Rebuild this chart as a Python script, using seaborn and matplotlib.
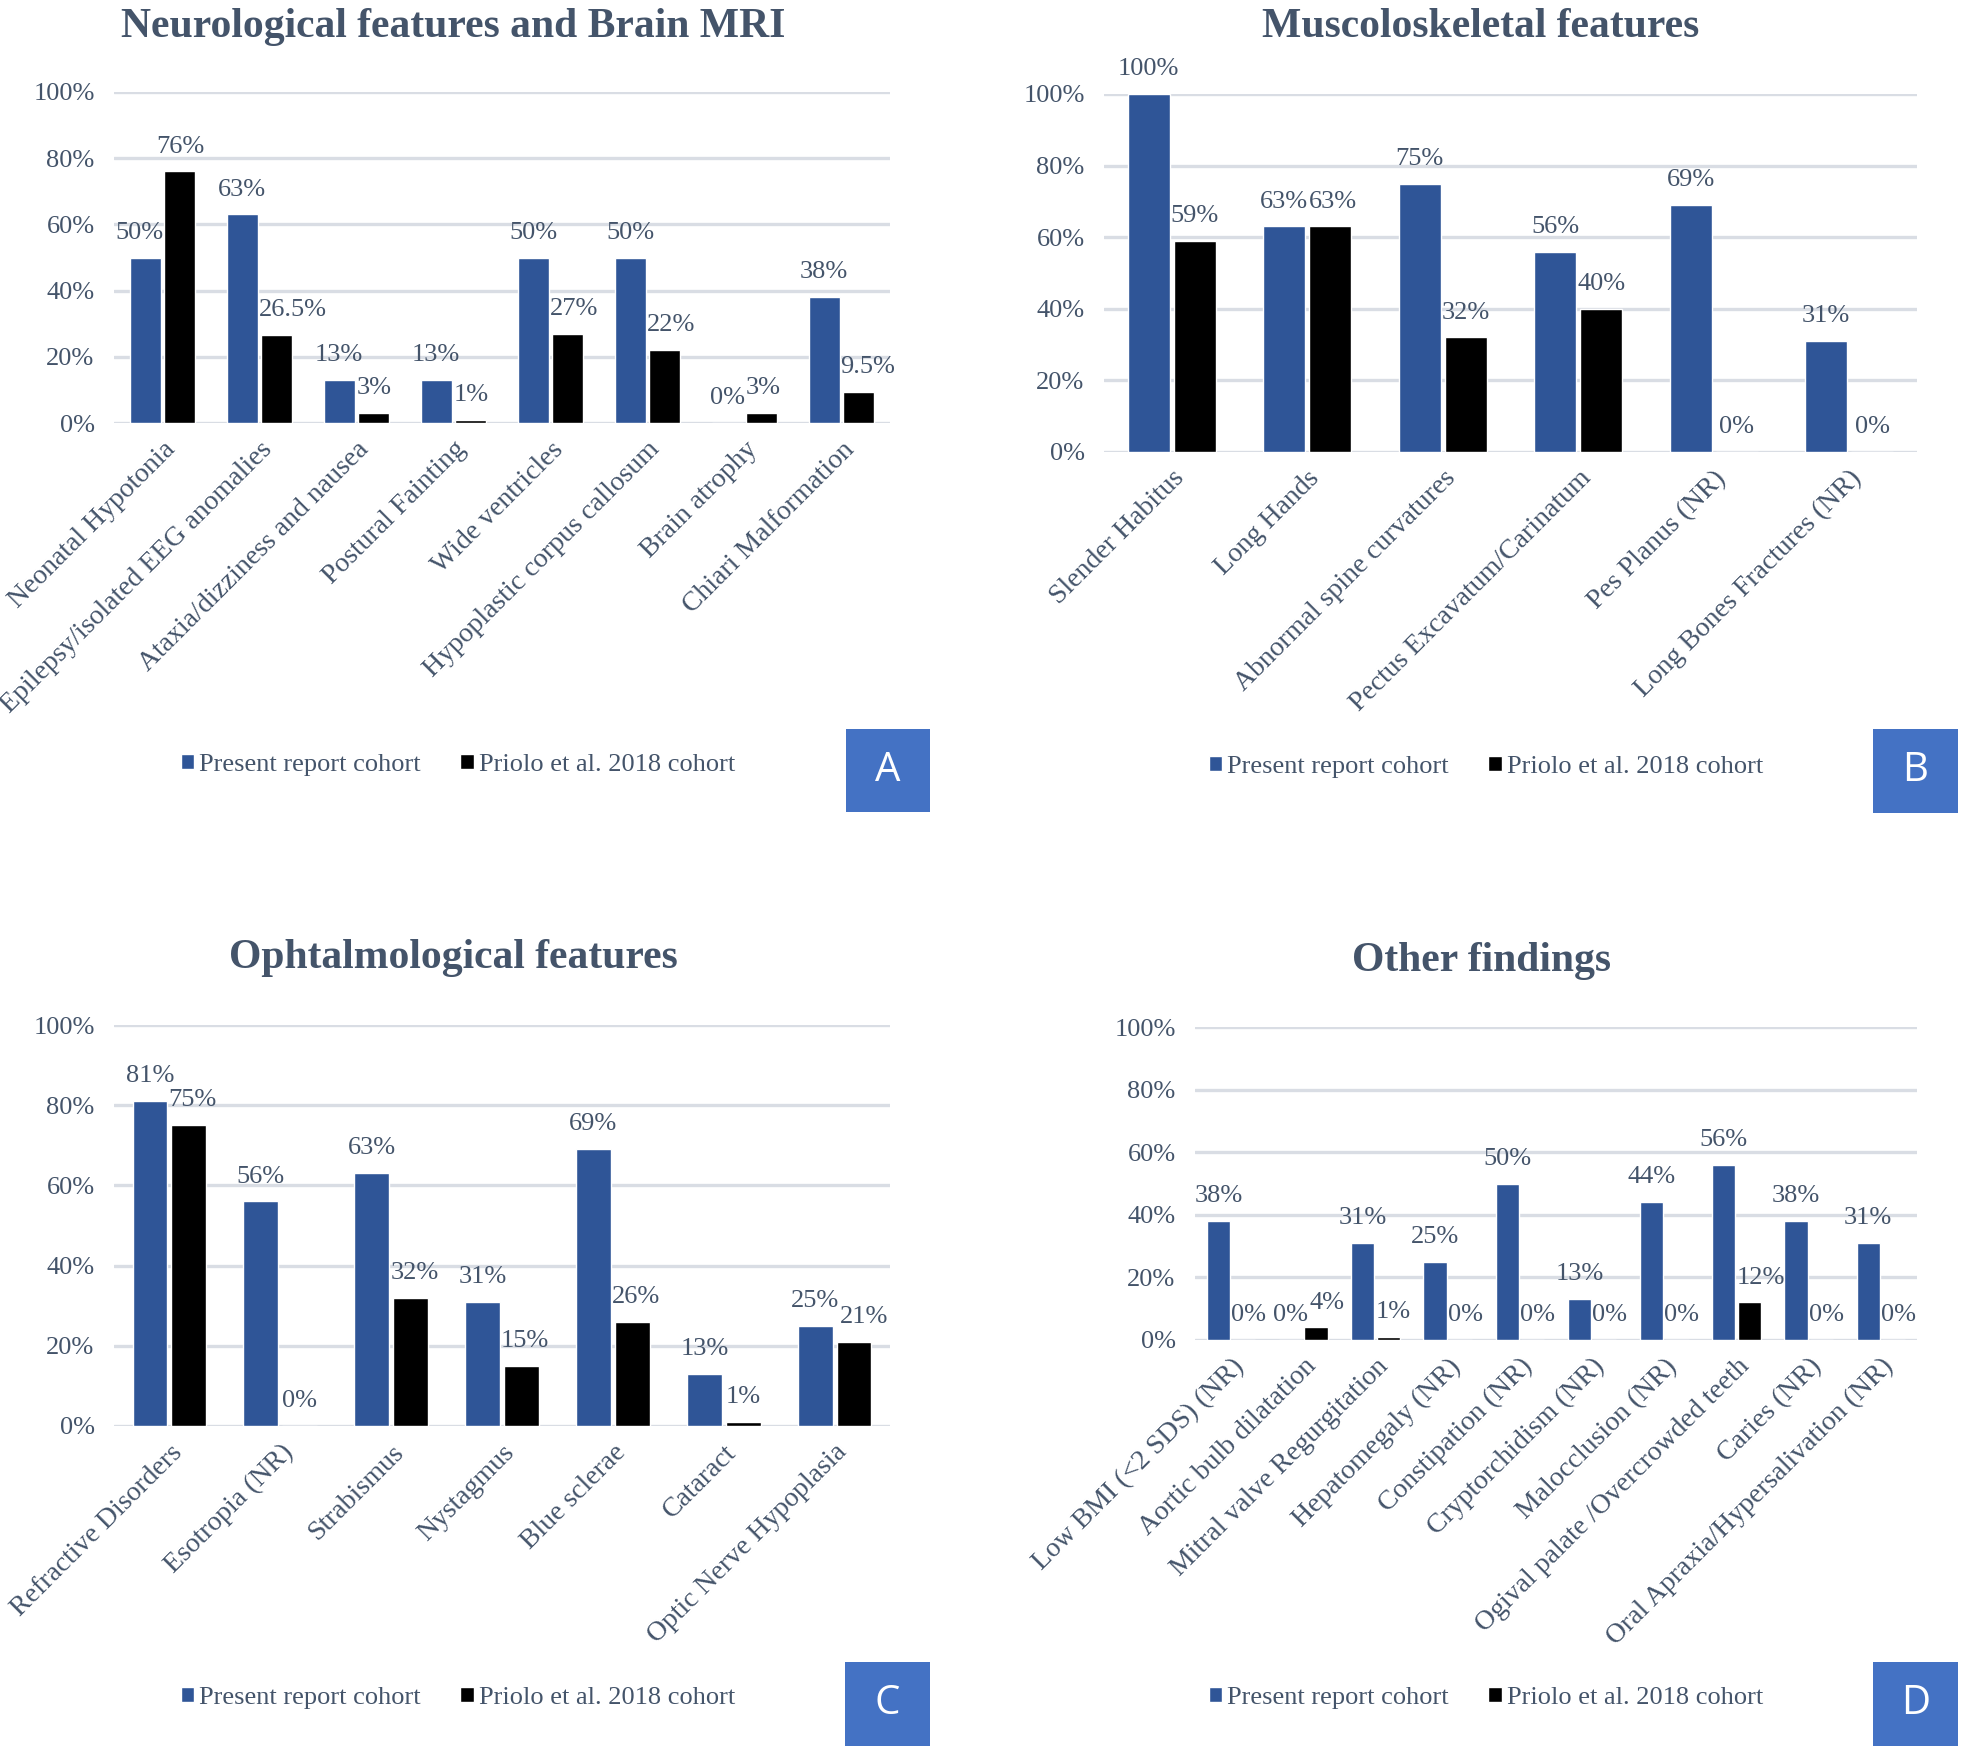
import matplotlib
matplotlib.use("Agg")
import matplotlib.pyplot as plt
import seaborn as sns
import pandas as pd
from matplotlib.patches import Rectangle

# ---------------- data ----------------
SERIES = ["Present report cohort", "Priolo et al. 2018 cohort"]

neuro_cats = ["Neonatal Hypotonia", "Epilepsy/isolated EEG anomalies",
              "Ataxia/dizziness and nausea", "Postural Fainting", "Wide ventricles",
              "Hypoplastic corpus callosum", "Brain atrophy", "Chiari Malformation"]
neuro_present = [50, 63, 13, 13, 50, 50, 0, 38]
neuro_priolo = [76, 26.5, 3, 1, 27, 22, 3, 9.5]

musc_cats = ["Slender Habitus", "Long Hands", "Abnormal spine curvatures",
             "Pectus Excavatum/Carinatum", "Pes Planus (NR)", "Long Bones Fractures (NR)"]
musc_present = [100, 63, 75, 56, 69, 31]
musc_priolo = [59, 63, 32, 40, 0, 0]

oph_cats = ["Refractive Disorders", "Esotropia (NR)", "Strabismus", "Nystagmus",
            "Blue sclerae", "Cataract", "Optic Nerve Hypoplasia"]
oph_present = [81, 56, 63, 31, 69, 13, 25]
oph_priolo = [75, 0, 32, 15, 26, 1, 21]

other_cats = ["Low BMI (<2 SDS) (NR)", "Aortic bulb dilatation", "Mitral valve Regurgitation",
              "Hepatomegaly (NR)", "Constipation (NR)", "Cryptorchidism (NR)",
              "Malocclusion (NR)", "Ogival palate /Overcrowded teeth", "Caries (NR)",
              "Oral Apraxia/Hypersalivation (NR)"]
other_present = [38, 0, 31, 25, 50, 13, 44, 56, 38, 31]
other_priolo = [0, 4, 1, 0, 0, 0, 0, 12, 0, 0]

y_ticks = [0, 20, 40, 60, 80, 100]

# ---------------- style ----------------
sns.set_theme(style="white")
plt.rcParams["font.family"] = ["Liberation Serif", "DejaVu Serif"]

TEXT = "#44546A"
BLUE = "#2F5597"
GRID = "#D9DDE4"
BOX = "#4472C4"
FS = 19
PAD = 10

W, H = 1968, 1748
DPI = 100
fig = plt.figure(figsize=(W / DPI, H / DPI), dpi=DPI)
registry = []


def px_axes(x0, x1, y0, y1):
    return fig.add_axes([x0 / W, 1 - y1 / H, (x1 - x0) / W, (y1 - y0) / H])


def panel(box_px, cats, present, priolo, width, gap, title, title_xy, legend_xy,
          letter, letter_box):
    ax = px_axes(*box_px)
    n = len(cats)
    df = pd.DataFrame({
        "category": cats * 2,
        "cohort": [SERIES[0]] * n + [SERIES[1]] * n,
        "value": present + priolo,
    })
    sns.barplot(data=df, x="category", y="value", hue="cohort",
                palette={SERIES[0]: BLUE, SERIES[1]: "black"},
                width=width, gap=gap, saturation=1, errorbar=None, ax=ax)
    ax.set_ylim(0, 100)
    ax.set_yticks(y_ticks)
    ax.set_yticklabels([f"{t}%" for t in y_ticks])
    ax.yaxis.grid(True, color=GRID, lw=2.4)
    ax.set_axisbelow(True)
    for s in ax.spines.values():
        s.set_visible(False)
    ax.set_xlabel("")
    ax.set_ylabel("")
    ax.set_xticks(range(n))
    ax.set_xticklabels(cats, rotation=45, ha="right", rotation_mode="anchor")
    ax.tick_params(axis="x", length=0, pad=10, labelsize=20, labelcolor=TEXT)
    ax.tick_params(axis="y", length=0, pad=14, labelsize=FS, labelcolor=TEXT)

    anns = []
    for cont, vals in zip(ax.containers, [present, priolo]):
        texts = ax.bar_label(cont, labels=[f"{v:g}%" for v in vals], padding=PAD,
                             fontsize=FS, color=TEXT)
        for t in texts:
            t.set_zorder(6)
        anns.append(texts)
    registry.append((ax, anns))

    handles, labels = ax.get_legend_handles_labels()
    if ax.get_legend() is not None:
        ax.get_legend().remove()
    fig.legend(handles, labels, loc="center",
               bbox_to_anchor=(legend_xy[0] / W, 1 - legend_xy[1] / H),
               ncol=2, frameon=False, fontsize=FS, labelcolor=TEXT,
               handlelength=0.5, handleheight=0.5, handletextpad=0.2,
               columnspacing=1.5)

    fig.text(title_xy[0] / W, 1 - title_xy[1] / H, title, fontsize=30,
             fontweight="bold", color=TEXT, ha="center", va="center")

    x0, x1, y0, y1 = letter_box
    fig.add_artist(Rectangle((x0 / W, 1 - y1 / H), (x1 - x0) / W, (y1 - y0) / H,
                             transform=fig.transFigure, color=BOX, lw=0))
    fig.text((x0 + x1) / 2 / W, 1 - (y0 + y1) / 2 / H, letter, color="white",
             fontsize=29, ha="center", va="center",
             family=["Open Sans", "DejaVu Sans"])
    return ax


panel((114, 890, 92, 423), neuro_cats, neuro_present, neuro_priolo, 0.72, 0.11,
      "Neurological features and Brain MRI", (453, 27), (458, 765), "A",
      (846, 930, 729, 812))
panel((1104, 1917, 94, 452), musc_cats, musc_present, musc_priolo, 0.68, 0.09,
      "Muscoloskeletal features", (1481, 27), (1486, 767), "B",
      (1873, 1958, 729, 813))
panel((114, 890, 1025, 1426), oph_cats, oph_present, oph_priolo, 0.70, 0.10,
      "Ophtalmological features", (453, 958), (458, 1698), "C",
      (845, 930, 1662, 1746))
panel((1195, 1917, 1027, 1340), other_cats, other_present, other_priolo, 0.70, 0.08,
      "Other findings", (1481, 961), (1486, 1698), "D",
      (1873, 1958, 1662, 1746))

# Nudge data labels sideways (like Excel) so they don't sit on a neighbouring bar
fig.canvas.draw()
rend = fig.canvas.get_renderer()
px2pt = 72 / DPI
for ax, (blue_anns, black_anns) in registry:
    blue_bars = ax.containers[0].patches
    black_bars = ax.containers[1].patches
    for i in range(len(blue_bars)):
        lb = blue_anns[i].get_window_extent(rend)
        kb = black_bars[i].get_window_extent(rend)
        left_shift = 0
        if kb.y1 > lb.y0 + 2 and lb.x1 > kb.x0:
            left_shift = lb.x1 - kb.x0 + 1
        if left_shift:
            blue_anns[i].xyann = (-left_shift * px2pt, PAD)
        lb_x1 = lb.x1 - left_shift
        lk = black_anns[i].get_window_extent(rend)
        bb = blue_bars[i].get_window_extent(rend)
        right_shift = 0
        if bb.y1 > lk.y0 + 2 and bb.x1 > lk.x0:
            right_shift = max(right_shift, bb.x1 - lk.x0 + 1)
        if lb.y0 < lk.y1 and lb.y1 > lk.y0 and lb_x1 > lk.x0:
            right_shift = max(right_shift, lb_x1 - lk.x0 + 1)
        if right_shift:
            black_anns[i].xyann = (right_shift * px2pt, PAD)

fig.savefig("out.png", dpi=DPI, facecolor="white")
